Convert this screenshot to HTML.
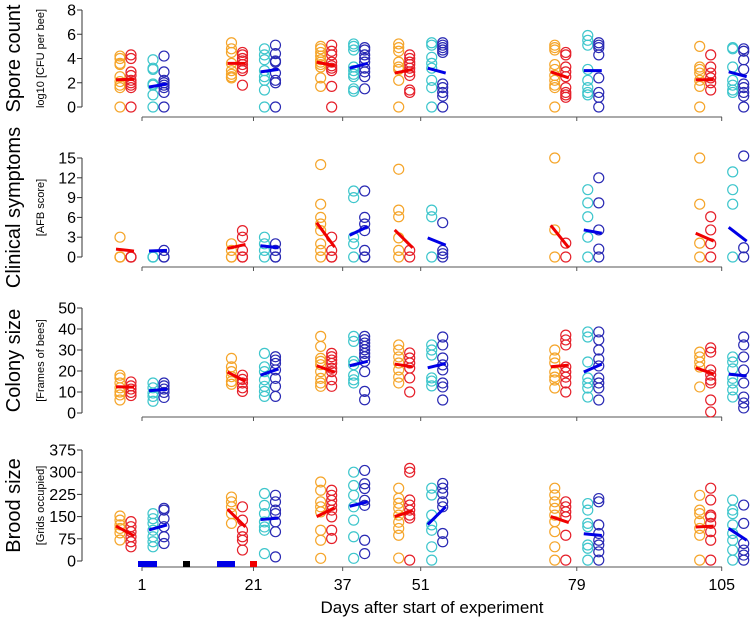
<!DOCTYPE html>
<html><head><meta charset="utf-8"><style>
html,body{margin:0;padding:0;background:#fff;width:750px;height:622px;overflow:hidden}
svg{display:block;font-family:"Liberation Sans",Arial,sans-serif}
</style></head><body>
<svg id="chart" width="750" height="622" viewBox="0 0 750 622"></svg>
<script>
const days = [1, 21, 37, 51, 79, 105];
const groupNames = ["orange", "red", "cyan", "blue"];

// Spore count values per day: [orange, red, cyan, blue]
const sporeVals = [
 [[4.2,4.0,3.6,3.5,2.5,2.1,1.8,1.6,0],[4.3,4.0,2.9,2.6,2.2,2.0,1.8,1.6,0],[3.9,3.2,3.1,1.9,1.8,1.0,0],[4.2,2.9,2.2,2.0,1.8,1.6,1.2,0]],
 [[5.3,4.8,4.5,3.6,3.0,2.7,2.5,2.4],[4.5,4.3,4.0,3.8,3.5,3.2,3.0,1.8],[4.8,4.3,3.9,3.0,2.5,2.2,1.4,0],[5.1,4.4,3.8,3.7,2.8,2.2,2.0,0]],
 [[5.0,4.8,4.5,4.2,3.9,3.7,3.5,3.3,2.4,1.7],[5.1,4.6,4.3,3.7,3.4,3.2,3.0,1.7,0],[5.2,5.0,4.7,3.3,3.0,2.7,2.5,1.5,1.3],[4.9,4.7,4.3,4.0,3.7,3.2,2.9,2.5,1.5]],
 [[5.2,4.9,4.6,3.7,3.3,3.1,2.2,0],[4.3,4.0,3.7,3.5,3.2,2.9,2.6,1.4,1.2],[5.3,5.1,4.1,3.6,3.2,2.2,1.6,0],[5.3,5.1,4.9,4.7,4.5,1.9,1.6,1.2,0.9,0]],
 [[5.1,4.9,4.7,3.5,3.1,2.6,2.2,1.8,1.6,0],[4.5,4.3,3.3,2.9,2.5,1.6,1.2,1.0,0.8],[5.9,5.5,5.1,3.1,2.2,1.6,1.2,1.0],[5.3,5.1,4.9,4.3,2.4,1.2,0.8,0]],
 [[5.0,3.3,3.1,2.8,2.2,1.7,0],[4.3,3.3,2.8,2.4,2.0,1.4],[4.9,4.8,3.3,2.2,1.8,1.4,1.2],[4.8,4.6,3.9,3.1,1.9,1.6,1.2,0.9,0]]
];
const sporeRed = [[2.25,2.3],[3.6,3.6],[3.7,3.4],[2.8,3.1],[2.9,2.4],[2.25,2.25]];
const sporeBlue = [[1.65,1.9],[2.9,3.1],[3.2,3.6],[3.2,2.8],[3.0,3.0],[2.9,2.5]];

const clinVals = [
 [[3,0,0,0],[0,0,0],[0,0,0],[1,0,0]],
 [[2,1,0,0],[4,3,1,0,0],[3,2,1,0],[2,1,0,0]],
 [[14,8,6,5,4,2,1,0],[3,1,0,0],[10,9,3,2,0],[10,6,5,4,1,0,0]],
 [[13.3,7.1,6.1,2.9,1,0],[1,0],[7.1,6.1,0],[5.2,1,0.5,0]],
 [[15,4.1,0],[2.1,0],[10.2,8.2,6.1,3.0,0],[12,8.2,4.1,1.2,0]],
 [[15,8,2.1,0],[6.1,4.1,2,0],[12.9,10.2,8,0],[15.3,1.4,0]]
];
const clinRed = [[1.2,0.9],[1.3,1.9],[5.2,1.5],[4.1,1.4],[4.8,1.4],[3.6,2.4]];
const clinBlue = [[0.9,1.0],[1.7,1.4],[3.3,4.6],[2.9,1.8],[4.1,3.6],[4.5,2.4]];

const colVals = [
 [[18,16.7,14.3,12,10,8.6,6.2],[14.8,12.9,11.4,9.8,8.3],[14.3,12,9.5,7.9,5.6],[14.3,12.9,11.4,9.8,7.4]],
 [[26,22,19.7,17.3,15,13.7],[18,16,14.3,12,10.3],[28.4,22,19.7,15.8,12.7,10.3,7.9],[26.8,25.2,23.6,20.5,16.5,12.7,7.9]],
 [[36.5,31.7,26,24.6,23,19.7,16.5,14.3,12.7],[28.4,26.8,25.2,23.6,21.3,19.7,15.8,12.7],[36.5,34.1,24.6,23,18,15.8,14.3],[36.5,34.9,33.3,31.7,30.1,28.4,26.8,24.6,19.7,10.3,6.3]],
 [[32.4,30,26.7,23.8,20.5,17.1,14.3],[28.6,26.2,23.8,21.4,16.7,10],[32.4,30,27.6,16.7,15.2,12.9],[36.2,32.4,26.2,22.9,20.5,14.3,12.4,6.2]],
 [[30,26.2,23.8,19.5,17.1,15.7,11.9],[37.1,34.8,32.4,21.9,19.5,17.1,14.3,10],[38.6,36.2,24.3,16.7,14.3,11.9,7.6],[38.6,34.8,30,25.7,22.4,16.7,14.3,11.9,6.2]],
 [[29,26.7,24.3,21.9,12.4],[31,29,20.5,18.1,15.7,14.3,6.2,0.5],[26.7,24.3,21,16.5,14.3,11,7.6],[36.2,32.4,26.7,20.5,14.3,7.6,4.8,2.4]]
];
const colRed = [[12.5,12.3],[19.5,15],[22.5,19.5],[23.3,22],[22,22.8],[21.5,18.6]];
const colBlue = [[10.6,11.3],[18,21],[22.5,24.6],[21.5,23.6],[19.5,23.3],[18.5,17.6]];

const broodVals = [
 [[152,138,122,110,95,71],[133,116,99,82,65,48],[160,143,127,104,82,65,48],[178,172,143,116,82,59]],
 [[216,200,183,160,127],[183,138,104,82,70,37],[228,188,160,132,115,104,25],[222,200,172,160,132,99,14]],
 [[267,239,200,183,166,104,70,9],[239,222,205,188,172,149,104,76],[300,255,222,183,138,82,9],[306,261,245,205,188,70,25]],
 [[246,212,195,178,155,131,110,87,10],[313,300,206,189,172,155,145,3],[246,223,155,122,104,48,3],[262,246,228,200,183,93,65]],
 [[246,223,200,178,155,133,99,48,3],[200,183,166,149,87,3],[194,172,127,116,54,43,3],[211,200,122,93,70,54,31,3]],
 [[222,172,160,133,110,87,3],[246,206,155,149,127,99,70,3],[206,172,160,122,93,70,37,3],[189,127,59,37,20,3]]
];
const broodRed = [[118,85],[175,115],[150,180],[150,170],[150,130],[115,118]];
const broodBlue = [[105,122],[140,145],[185,200],[123,183],[92,86],[110,70]];

const panels = [
 {name:"spore-count", title:"Spore count", sub:"log10 [CFU per bee]", max:8, ticks:[0,2,4,6,8], y0:107, yTop:10, axisY:117, vals:sporeVals, red:sporeRed, blue:sporeBlue},
 {name:"clinical-symptoms", title:"Clinical symptoms", sub:"[AFB score]", max:15, ticks:[0,3,6,9,12,15], y0:257, yTop:158, axisY:267, vals:clinVals, red:clinRed, blue:clinBlue},
 {name:"colony-size", title:"Colony size", sub:"[Frames of bees]", max:50, ticks:[0,10,20,30,40,50], y0:413, yTop:308, axisY:417, vals:colVals, red:colRed, blue:colBlue},
 {name:"brood-size", title:"Brood size", sub:"[Grids occupied]", max:375, ticks:[0,75,150,225,300,375], y0:561, yTop:450, axisY:567, vals:broodVals, red:broodRed, blue:broodBlue}
];

const NS = "http://www.w3.org/2000/svg";
const svg = document.getElementById("chart");
function mk(tag, attrs, parent){
  const e = document.createElementNS(NS, tag);
  for (const k in attrs) e.setAttribute(k, attrs[k]);
  (parent||svg).appendChild(e);
  return e;
}
const xDay = d => 142 + (d - 1) * 5.574;
const offsets = [-22, -11, 11, 22];
const colors = ["#f5a52a", "#e5202a", "#3ec6cc", "#2a2ab4"];

panels.forEach(p => {
  const g = mk("g", {});
  
  
  const yS = v => p.y0 - v / p.max * (p.y0 - p.yTop);
  // y axis
  const ya = mk("line", {x1:82, x2:82, y1:p.yTop, y2:p.y0, stroke:"#333", "stroke-width":1}, g);
  
  
  p.ticks.forEach(t => {
    mk("line", {x1:77, x2:82, y1:yS(t), y2:yS(t), stroke:"#333", "stroke-width":1}, g);
    const tl = mk("text", {x:76, y:yS(t)+5.5, "text-anchor":"end", "font-size":16, fill:"#000"}, g);
    tl.textContent = t;
    
    
  });
  // x axis
  const xa = mk("line", {x1:142, x2:722, y1:p.axisY, y2:p.axisY, stroke:"#555", "stroke-width":1}, g);
  
  
  days.forEach(d => mk("line", {x1:xDay(d), x2:xDay(d), y1:p.axisY, y2:p.axisY+4, stroke:"#555", "stroke-width":1}, g));
  // titles
  const ymid = (p.y0 + p.yTop) / 2;
  const tt = mk("text", {x:0, y:0, transform:`translate(20,${ymid}) rotate(-90)`, "text-anchor":"middle", "font-size":20, fill:"#000"}, g);
  tt.textContent = p.title;
  
  
  const st = mk("text", {x:0, y:0, transform:`translate(44,${ymid}) rotate(-90)`, "text-anchor":"middle", "font-size":11, fill:"#000"}, g);
  st.textContent = p.sub;
  
  
  // points
  days.forEach((d, di) => {
    p.vals[di].forEach((arr, gi) => {
      arr.forEach(v => {
        const c = mk("circle", {cx:xDay(d)+offsets[gi], cy:yS(v), r:5, fill:"none", stroke:colors[gi], "stroke-width":1.2}, g);
        
        
      });
    });
    const r = p.red[di], b = p.blue[di];
    const rl = mk("line", {x1:xDay(d)-26, x2:xDay(d)-8, y1:yS(r[0]), y2:yS(r[1]), stroke:"#f00000", "stroke-width":3}, g);
    
    
    const bl = mk("line", {x1:xDay(d)+7, x2:xDay(d)+25, y1:yS(b[0]), y2:yS(b[1]), stroke:"#0000e6", "stroke-width":3}, g);
    
    
  });
});

// x tick labels
days.forEach(d => {
  const t = mk("text", {x:xDay(d), y:590, "text-anchor":"middle", "font-size":16, fill:"#000"});
  t.textContent = d;
  
  
});
const xt = mk("text", {x:432, y:613, "text-anchor":"middle", "font-size":17, fill:"#000"});
xt.textContent = "Days after start of experiment";



// treatment bars
const bars = [[138,157,"#0000e6"],[183,190,"#000"],[217,235,"#0000e6"],[250,257,"#f00000"]];
bars.forEach(b => {
  const r = mk("rect", {x:b[0], y:561, width:b[1]-b[0], height:6, fill:b[2]});
  
  
});
</script>
</body></html>
